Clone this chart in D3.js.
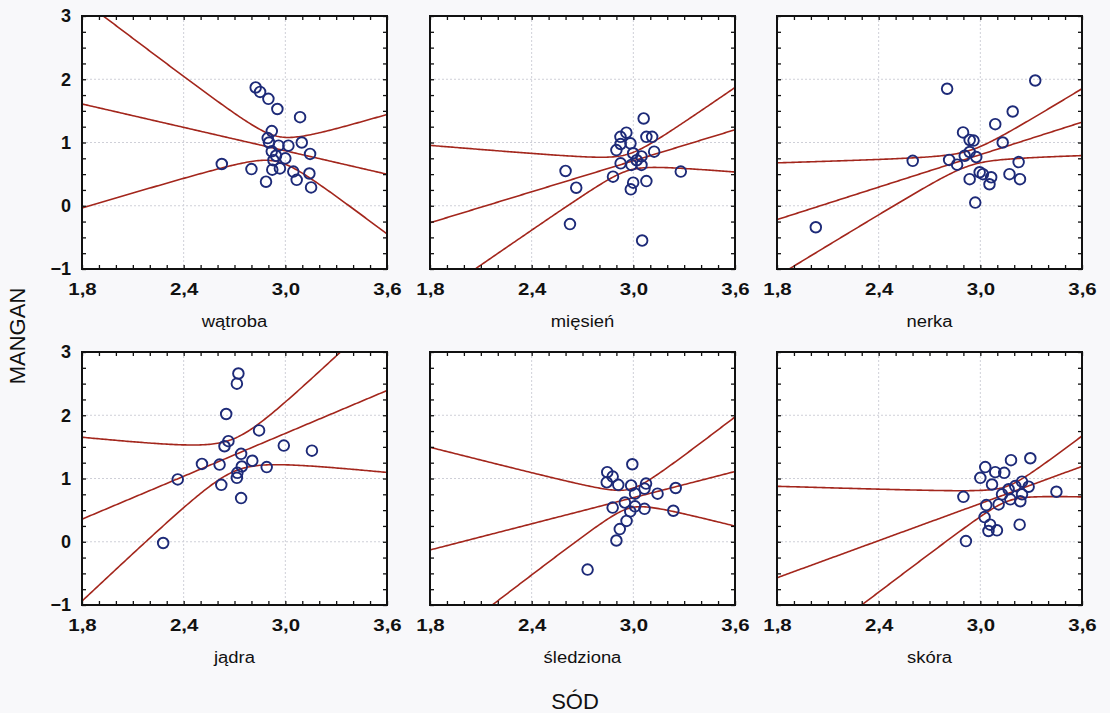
<!DOCTYPE html>
<html><head><meta charset="utf-8">
<script src="https://cdn.jsdelivr.net/npm/d3@7"></script>
<style>
html,body{margin:0;padding:0;background:#f8f8fa;}
svg{display:block;font-family:"Liberation Sans",Arial,sans-serif;}
</style></head>
<body><svg id="c" width="1110" height="713"></svg>
<script>
// ---- data ----
const panelNames = ["wątroba","mięsień","nerka","jądra","śledziona","skóra"];
const xTickLabels = [1.8, 2.4, 3.0, 3.6];
const yTickLabels = [3, 2, 1, 0, -1];
const xDomain = [1.8, 3.6];
const yDomain = [-1, 3];

const watrobaX = [2.825,2.851,2.90,2.953,3.087,2.92,2.896,2.904,3.018,3.097,3.146,2.625,2.80,2.92,2.93,2.945,3.0,2.968,2.923,3.047,3.067,3.142,3.152,2.886,2.96];
const watrobaY = [1.87,1.80,1.69,1.53,1.40,1.18,1.07,1.0,0.95,1.0,0.82,0.66,0.58,0.86,0.72,0.79,0.75,0.59,0.57,0.54,0.41,0.51,0.29,0.38,0.95];
const miesienX = [3.061,2.959,2.924,2.925,2.983,3.077,3.111,2.90,3.123,2.999,3.048,2.925,2.989,3.048,2.60,3.28,2.88,2.663,2.999,2.985,3.077,2.626,3.052,3.02];
const miesienY = [1.38,1.155,1.09,0.976,0.987,1.09,1.09,0.88,0.855,0.83,0.78,0.67,0.645,0.645,0.55,0.54,0.46,0.285,0.365,0.26,0.39,-0.29,-0.55,0.72];
const nerkaX = [3.324,2.804,3.191,3.088,2.898,2.937,3.132,2.96,2.601,2.816,2.908,2.937,2.976,2.863,2.996,3.064,2.937,3.054,3.172,3.226,3.234,2.97,2.029,3.015];
const nerkaY = [1.98,1.85,1.49,1.29,1.16,1.04,1.0,1.03,0.71,0.725,0.79,0.85,0.77,0.65,0.53,0.45,0.42,0.34,0.5,0.69,0.42,0.05,-0.34,0.5];
const jadraX = [2.723,2.714,2.651,2.845,2.664,2.641,2.991,3.157,2.739,2.508,2.612,2.805,2.89,2.743,2.717,2.365,2.714,2.622,2.739,2.279];
const jadraY = [2.66,2.50,2.02,1.76,1.59,1.51,1.52,1.44,1.39,1.23,1.22,1.28,1.18,1.19,1.09,0.985,1.01,0.90,0.69,-0.02];
const sledzionaX = [2.994,2.846,2.878,2.843,2.911,2.987,3.066,3.075,3.143,3.25,3.01,2.878,3.066,3.236,2.982,3.01,2.96,2.92,2.90,2.73,2.95];
const sledzionaY = [1.225,1.10,1.03,0.94,0.90,0.89,0.84,0.92,0.76,0.85,0.76,0.54,0.52,0.49,0.48,0.56,0.33,0.20,0.02,-0.44,0.62];
const skoraX = [3.295,3.181,3.029,3.088,3.141,3.0,3.069,3.246,3.285,3.449,2.90,3.206,3.167,3.128,3.177,3.236,3.246,3.108,3.035,3.025,3.058,3.098,3.048,3.232,2.915];
const skoraY = [1.32,1.29,1.18,1.10,1.09,1.01,0.905,0.95,0.87,0.79,0.71,0.88,0.83,0.75,0.67,0.64,0.75,0.59,0.58,0.39,0.27,0.18,0.17,0.27,0.01];

// regression fit (intercept, slope) and 95% band parameters (centre x, half-width at centre, spread)
const fitIntercept = [2.72, -1.74, -1.76, -1.677, -1.37, -2.33];
const fitSlope     = [-0.617, 0.817, 0.856, 1.13, 0.689, 0.978];
const bandCenter   = [2.95, 2.97, 2.94, 2.70, 2.98, 3.16];
const bandHalf     = [0.20, 0.13, 0.12, 0.26, 0.15, 0.12];
const bandSpread   = [1.42, 1.04, 0.78, 1.41, 1.37, 1.06];

const seriesX = [watrobaX, miesienX, nerkaX, jadraX, sledzionaX, skoraX];
const seriesY = [watrobaY, miesienY, nerkaY, jadraY, sledzionaY, skoraY];

// ---- layout ----
const colLeft = [82, 430, 777];
const rowTop = [16, 352];
const pw = 305, ph = 253;
const lineColor = "#a3261c";
const dotColor = "#1d2a78";

const svg = d3.select("#c");
const fmt = d => d.toFixed(1).replace(".", ",");
const stretch = (sel, f) => sel.each(function () {
  const L = this.getComputedTextLength();
  d3.select(this).attr("textLength", L * f).attr("lengthAdjust", "spacingAndGlyphs");
});

panelNames.forEach((name, i) => {
  const col = i % 3, row = Math.floor(i / 3);
  const g = svg.append("g").attr("transform", `translate(${colLeft[col]},${rowTop[row]})`);
  const x = d3.scaleLinear().domain(xDomain).range([0, pw]);
  const y = d3.scaleLinear().domain(yDomain).range([ph, 0]);

  g.append("rect").attr("width", pw).attr("height", ph).attr("fill", "#ffffff");

  // grid
  g.selectAll(".gx").data([2.4, 3.0]).join("line")
    .attr("x1", d => x(d)).attr("x2", d => x(d)).attr("y1", 0).attr("y2", ph)
    .attr("stroke", "#cfd0d8").attr("stroke-width", 1).attr("stroke-dasharray", "2,2");
  g.selectAll(".gy").data([0, 1, 2]).join("line")
    .attr("y1", d => y(d)).attr("y2", d => y(d)).attr("x1", 0).attr("x2", pw)
    .attr("stroke", "#cfd0d8").attr("stroke-width", 1).attr("stroke-dasharray", "2,2");

  const clipId = "clip" + i;
  g.append("clipPath").attr("id", clipId).append("rect").attr("width", pw).attr("height", ph);
  const plot = g.append("g").attr("clip-path", `url(#${clipId})`);

  const xs = d3.range(xDomain[0], xDomain[1] + 0.0001, 0.01);
  const c = v => fitIntercept[i] + fitSlope[i] * v;
  const h = v => Math.sqrt(bandHalf[i] ** 2 + (bandSpread[i] * (v - bandCenter[i])) ** 2);
  const line = d3.line().x(d => x(d[0])).y(d => y(d[1]));
  const curves = [
    xs.map(v => [v, c(v)]),
    xs.map(v => [v, c(v) + h(v)]),
    xs.map(v => [v, c(v) - h(v)])
  ];
  plot.selectAll(".ln").data(curves).join("path")
    .attr("d", line).attr("fill", "none").attr("stroke", lineColor).attr("stroke-width", 1.6);

  const pts = seriesX[i].map((v, k) => [v, seriesY[i][k]]);
  plot.selectAll(".pt").data(pts).join("circle")
    .attr("cx", d => x(d[0])).attr("cy", d => y(d[1])).attr("r", 5.3)
    .attr("fill", "none").attr("stroke", dotColor).attr("stroke-width", 1.9);

  // inward minor ticks on all four sides
  const tickX = d3.range(18, 37).map(v => v / 10);
  const tickY = d3.range(-4, 13).map(v => v / 4);
  const ax = (axisFn, sc, vals, tr) => g.append("g").attr("transform", tr)
    .call(axisFn(sc).tickValues(vals).tickSize(-4).tickFormat(""))
    .call(s => s.select(".domain").remove())
    .call(s => s.selectAll("line").attr("stroke", "#111").attr("stroke-width", 1.3));
  ax(d3.axisBottom, x, tickX, `translate(0,${ph})`);
  ax(d3.axisTop, x, tickX, `translate(0,0)`);
  ax(d3.axisLeft, y, tickY, `translate(0,0)`);
  ax(d3.axisRight, y, tickY, `translate(${pw},0)`);

  g.append("rect").attr("width", pw).attr("height", ph).attr("fill", "none")
    .attr("stroke", "#111").attr("stroke-width", 2);

  // x tick labels
  const xl = g.append("g").attr("transform", `translate(0,${ph})`)
    .call(d3.axisBottom(x).tickValues(xTickLabels).tickSize(0).tickPadding(14).tickFormat(fmt));
  xl.select(".domain").remove();
  xl.selectAll("text").attr("font-size", 17).attr("font-weight", "bold").attr("fill", "#111")
    .attr("font-family", "Liberation Sans, Arial, sans-serif").call(stretch, 1.2);

  if (col === 0) {
    const yl = g.append("g")
      .call(d3.axisLeft(y).tickValues(yTickLabels).tickSize(0).tickPadding(11).tickFormat(d3.format("d")));
    yl.select(".domain").remove();
    yl.selectAll("text").attr("font-size", 18).attr("font-weight", "bold").attr("fill", "#111")
      .attr("font-family", "Liberation Sans, Arial, sans-serif");
  }

  g.append("text").attr("x", pw / 2).attr("y", ph + 58).attr("text-anchor", "middle")
    .attr("font-size", 16).attr("fill", "#111").text(name).call(stretch, 1.15);
});

svg.append("text").attr("transform", "translate(25,336) rotate(-90)")
  .attr("text-anchor", "middle").attr("font-size", 22).attr("fill", "#111").text("MANGAN");
svg.append("text").attr("x", 575).attr("y", 709)
  .attr("text-anchor", "middle").attr("font-size", 22).attr("fill", "#111").text("SÓD");
</script></body></html>
